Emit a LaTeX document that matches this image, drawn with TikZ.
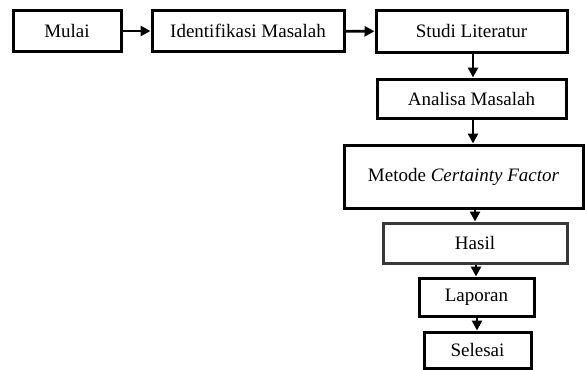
\documentclass[tikz,border=0pt]{standalone}
\usepackage{fontspec}
\setmainfont{Liberation Serif}
\usetikzlibrary{arrows.meta}
\begin{document}
\begin{tikzpicture}[x=1pt,y=-1pt,
  box/.style={draw=black,line width=3pt,rectangle,inner sep=0pt,
    font=\fontsize{19}{22}\selectfont},
  arr/.style={line width=2.8pt,-{Triangle[length=10pt,width=10pt]}}]
\useasboundingbox (0,0) rectangle (585,369);
\node[box,minimum width=108pt,minimum height=40pt] (mulai) at (67,31) {Mulai};
\node[box,minimum width=192pt,minimum height=40pt] (ident) at (248,31) {Identifikasi Masalah};
\node[box,minimum width=191pt,minimum height=41pt] (studi) at (471.5,31.5) {Studi Literatur};
\node[box,minimum width=189pt,minimum height=39pt] (anal) at (471.5,98.5) {Analisa Masalah};
\node[box,minimum width=239pt,minimum height=63pt] (metode) at (463.5,176.5) {Metode \textit{Certainty Factor}};
\node[box,draw=black!78,minimum width=184pt,minimum height=40pt] (hasil) at (475,243) {Hasil};
\node[box,minimum width=115pt,minimum height=38pt] (lap) at (476.5,297) {Laporan};
\node[box,minimum width=107pt,minimum height=36pt] (sel) at (477.5,350) {Selesai};
\draw[arr] (mulai) -- (ident);
\draw[arr] (ident) -- (studi);
\draw[arr] (studi.south -| 473,0) -- (anal.north -| 473,0);
\draw[arr] (anal.south -| 473,0) -- (metode.north -| 473,0);
\draw[arr] (metode.south -| hasil.north) -- (hasil.north);
\draw[arr] (hasil.south -| 476,0) -- (lap.north -| 476,0);
\draw[arr] (lap.south -| 477,0) -- (sel.north -| 477,0);
\end{tikzpicture}
\end{document}
